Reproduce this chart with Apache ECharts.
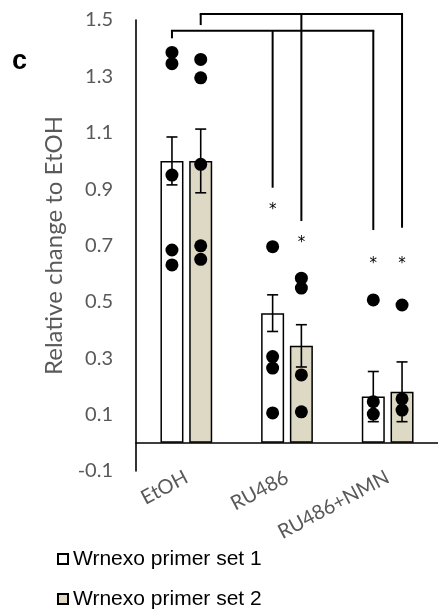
<!DOCTYPE html>
<html>
<head>
<meta charset="utf-8">
<script src="https://cdn.jsdelivr.net/npm/echarts@6/dist/echarts.min.js"></script>
<style>
html,body{margin:0;padding:0;background:#fff;}
#chart{width:438px;height:612px;}
</style>
</head>
<body>
<div id="chart"></div>
<script>
// ---- data ----
const categories = ['EtOH', 'RU486', 'RU486+NMN'];
const seriesNames = ['Wrnexo primer set 1', 'Wrnexo primer set 2'];
const set1Mean = [1.0, 0.46, 0.164];
const set2Mean = [1.0, 0.344, 0.181];
const set1Sem = [0.085, 0.065, 0.089];
const set2Sem = [0.113, 0.075, 0.106];
const set1Points = [
  [1.385, 1.345, 0.95, 0.684, 0.631],
  [0.696, 0.306, 0.265, 0.106],
  [0.507, 0.146, 0.102]
];
const set2Points = [
  [1.36, 1.295, 0.988, 0.699, 0.651],
  [0.584, 0.549, 0.241, 0.110],
  [0.489, 0.156, 0.116]
];
const set1Stars = [null, 0.837, 0.646];
const set2Stars = [null, 0.719, 0.646];
const bracketTop = [1.462, 1.521];
const set1BracketEnds = [1.435, 0.905, 0.755];
const set2BracketEnds = [1.482, 0.787, 0.763];
const yTicks = [-0.1, 0.1, 0.3, 0.5, 0.7, 0.9, 1.1, 1.3, 1.5];
const yMin = -0.1, yMax = 1.5;

// ---- styling ----
const BAR_W = 23;
const BAR_GAP = 0.25;
const OFFSET = BAR_W * (1 + BAR_GAP) / 2;
const fills = ['#ffffff', '#ddd9c4'];
const LABEL_FONT = 'Lato';

const chart = echarts.init(document.getElementById('chart'));

function xFor(api, cat, setIdx) {
  return api.coord([cat, 0])[0] + (setIdx === 0 ? -OFFSET : OFFSET);
}

function errSeries(means, sems, setIdx) {
  return {
    type: 'custom',
    z: 5,
    data: means.map((m, i) => [i, m, sems[i]]),
    renderItem: function (params, api) {
      const i = api.value(0), m = api.value(1), s = api.value(2);
      const x = xFor(api, i, setIdx);
      const yt = api.coord([i, m + s])[1];
      const yb = api.coord([i, m - s])[1];
      const cw = 5.5;
      const st = { stroke: '#000', lineWidth: 1.6 };
      return {
        type: 'group',
        children: [
          { type: 'line', shape: { x1: x, y1: yt, x2: x, y2: yb }, style: st },
          { type: 'line', shape: { x1: x - cw, y1: yt, x2: x + cw, y2: yt }, style: st },
          { type: 'line', shape: { x1: x - cw, y1: yb, x2: x + cw, y2: yb }, style: st }
        ]
      };
    }
  };
}

function dotSeries(points, setIdx) {
  const data = [];
  points.forEach((arr, i) => arr.forEach(v => data.push([i, v])));
  return {
    type: 'custom',
    z: 6,
    data: data,
    renderItem: function (params, api) {
      const i = api.value(0), v = api.value(1);
      const x = xFor(api, i, setIdx);
      const y = api.coord([i, v])[1];
      return { type: 'circle', shape: { cx: x, cy: y, r: 6.5 }, style: { fill: '#000' } };
    }
  };
}

function starSeries(stars, setIdx) {
  const data = [];
  stars.forEach((v, i) => { if (v !== null) data.push([i, v]); });
  return {
    type: 'custom',
    z: 6,
    data: data,
    renderItem: function (params, api) {
      const i = api.value(0), v = api.value(1);
      const x = xFor(api, i, setIdx);
      const y = api.coord([i, v])[1];
      return {
        type: 'text',
        style: { text: '*', x: x, y: y + 3, align: 'center', verticalAlign: 'middle',
                 font: '15px "DejaVu Sans"', fill: '#000' }
      };
    }
  };
}

function bracketSeries(top, ends, setIdx) {
  return {
    type: 'custom',
    z: 7,
    clip: false,
    data: [[0, top].concat(ends)],
    renderItem: function (params, api) {
      const t = api.value(1);
      const yt = api.coord([0, t])[1];
      const st = { stroke: '#000', lineWidth: 2, fill: null };
      const children = [];
      const xs = [];
      for (let i = 0; i < categories.length; i++) {
        const x = xFor(api, i, setIdx);
        xs.push(x);
        const ye = api.coord([i, api.value(2 + i)])[1];
        children.push({ type: 'line', shape: { x1: x, y1: yt, x2: x, y2: ye }, style: st });
      }
      children.push({ type: 'line', shape: { x1: xs[0] - 1, y1: yt, x2: xs[xs.length - 1] + 1, y2: yt }, style: st });
      return { type: 'group', children: children };
    }
  };
}

const option = {
  animation: false,
  backgroundColor: '#fff',
  grid: { left: 136, top: 20, width: 302, height: 451 },
  legend: {
    orient: 'vertical',
    left: 57,
    top: 547,
    height: 64,
    padding: 0,
    itemWidth: 10,
    itemHeight: 10,
    itemGap: 16,
    icon: 'rect',
    data: seriesNames,
    textStyle: { fontFamily: 'Liberation Sans', fontSize: 21, color: '#000', lineHeight: 24 }
  },
  graphic: [
    { type: 'text', left: 12, top: 48, style: { text: 'c', font: 'bold 27px "Liberation Sans"', fill: '#000' } }
  ],
  xAxis: {
    type: 'category',
    data: categories,
    axisLine: { onZero: true, lineStyle: { color: '#000', width: 1.6 } },
    axisTick: { show: false },
    axisLabel: { rotate: 28, margin: 5, interval: 0, color: '#595959', fontFamily: LABEL_FONT, fontSize: 20 }
  },
  yAxis: {
    type: 'value',
    min: yMin,
    max: yMax,
    name: 'Relative change to EtOH',
    nameLocation: 'middle',
    nameGap: 69,
    nameTextStyle: { fontFamily: LABEL_FONT, fontSize: 24, color: '#595959' },
    axisLine: { show: true, lineStyle: { color: '#000', width: 1.6 } },
    axisTick: { show: false },
    splitLine: { show: false },
    axisLabel: {
      customValues: yTicks,
      margin: 23,
      color: '#595959',
      fontFamily: LABEL_FONT,
      fontSize: 20,
      formatter: v => v.toFixed(1)
    }
  },
  series: [
    {
      name: seriesNames[0], type: 'bar', data: set1Mean, barWidth: BAR_W, barGap: (BAR_GAP * 100) + '%',
      itemStyle: { color: fills[0], borderColor: '#000', borderWidth: 1.5 }
    },
    {
      name: seriesNames[1], type: 'bar', data: set2Mean, barWidth: BAR_W,
      itemStyle: { color: fills[1], borderColor: '#000', borderWidth: 1.5 }
    },
    errSeries(set1Mean, set1Sem, 0),
    errSeries(set2Mean, set2Sem, 1),
    dotSeries(set1Points, 0),
    dotSeries(set2Points, 1),
    starSeries(set1Stars, 0),
    starSeries(set2Stars, 1),
    bracketSeries(bracketTop[0], set1BracketEnds, 0),
    bracketSeries(bracketTop[1], set2BracketEnds, 1)
  ]
};
chart.setOption(option);
</script>
</body>
</html>
